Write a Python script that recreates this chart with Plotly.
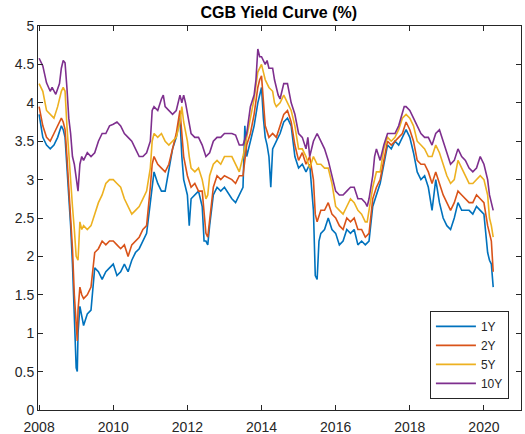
import plotly.graph_objects as go

# ---- data (decimal years, yields in %) ----
t_1y = [2008.0, 2008.1, 2008.2, 2008.3, 2008.4, 2008.5, 2008.6, 2008.65, 2008.7, 2008.75, 2008.8, 2008.85,
        2008.9, 2008.95, 2009.0, 2009.03, 2009.05, 2009.1, 2009.15, 2009.2, 2009.3, 2009.4, 2009.5, 2009.6,
        2009.7, 2009.8, 2009.9, 2010.0, 2010.1, 2010.2, 2010.3, 2010.4, 2010.5, 2010.6, 2010.7, 2010.8,
        2010.9, 2011.0, 2011.05, 2011.1, 2011.2, 2011.3, 2011.4, 2011.5, 2011.6, 2011.7, 2011.8, 2011.85,
        2011.9, 2012.0, 2012.05, 2012.1, 2012.2, 2012.3, 2012.4, 2012.45, 2012.5, 2012.55, 2012.6, 2012.7,
        2012.8, 2012.9, 2013.0, 2013.2, 2013.3, 2013.4, 2013.5, 2013.55, 2013.6, 2013.7, 2013.8, 2013.9,
        2014.0, 2014.05, 2014.1, 2014.15, 2014.2, 2014.25, 2014.3, 2014.4, 2014.5, 2014.6, 2014.7, 2014.8,
        2014.9, 2015.0, 2015.1, 2015.2, 2015.3, 2015.4, 2015.45, 2015.5, 2015.55, 2015.6, 2015.7, 2015.8,
        2015.9, 2016.0, 2016.1, 2016.2, 2016.3, 2016.4, 2016.5, 2016.6, 2016.7, 2016.8, 2016.9, 2017.0,
        2017.1, 2017.2, 2017.3, 2017.4, 2017.5, 2017.6, 2017.7, 2017.8, 2017.9, 2018.0, 2018.1, 2018.2,
        2018.3, 2018.4, 2018.5, 2018.6, 2018.65, 2018.7, 2018.8, 2018.9, 2019.0, 2019.1, 2019.2, 2019.3,
        2019.4, 2019.5, 2019.6, 2019.7, 2019.8, 2019.9, 2020.0, 2020.1, 2020.15, 2020.2, 2020.25]
y_1y = [3.85, 3.55, 3.45, 3.4, 3.45, 3.55, 3.7, 3.65, 3.55, 3.2, 2.8, 2.4,
        1.9, 1.3, 0.55, 0.5, 1.0, 1.35, 1.2, 1.1, 1.25, 1.3, 1.85, 1.8,
        1.7, 1.8, 1.85, 1.9, 1.75, 1.8, 1.9, 1.8, 1.95, 2.05, 2.1, 2.2,
        2.3, 2.7, 2.95, 3.1, 2.95, 2.85, 2.85, 3.1, 3.4, 3.55, 3.8, 3.3,
        3.0, 2.8, 2.4, 2.75, 2.8, 2.85, 2.65, 2.2, 2.2, 2.15, 2.4, 2.8,
        2.9, 2.85, 2.9, 2.75, 2.7, 2.8, 2.9, 3.7, 3.3, 3.5, 3.7, 4.0,
        4.2, 3.8, 3.55, 3.45, 3.3, 2.9, 3.4, 3.5, 3.6, 3.75, 3.8, 3.7,
        3.3, 3.15, 3.2, 3.1, 3.2, 2.6, 1.75, 1.7, 2.2, 2.3, 2.35, 2.5,
        2.35, 2.3, 2.15, 2.2, 2.35, 2.3, 2.35, 2.15, 2.2, 2.15, 2.2, 2.65,
        2.8, 2.95, 3.2, 3.45, 3.4, 3.5, 3.45, 3.55, 3.65, 3.55, 3.35, 3.1,
        3.0, 3.05, 2.9, 2.6, 2.85, 3.0, 2.7, 2.5, 2.4, 2.35, 2.5, 2.7,
        2.6, 2.6, 2.6, 2.55, 2.65, 2.6, 2.55, 2.05, 1.95, 1.9, 1.6]

t_2y = [2008.0, 2008.1, 2008.2, 2008.3, 2008.4, 2008.5, 2008.6, 2008.65, 2008.7, 2008.75, 2008.8, 2008.85,
        2008.9, 2008.95, 2009.0, 2009.03, 2009.05, 2009.1, 2009.15, 2009.2, 2009.3, 2009.4, 2009.5, 2009.6,
        2009.7, 2009.8, 2009.9, 2010.0, 2010.1, 2010.2, 2010.3, 2010.4, 2010.5, 2010.6, 2010.7, 2010.8,
        2010.9, 2011.0, 2011.05, 2011.1, 2011.2, 2011.3, 2011.4, 2011.5, 2011.6, 2011.7, 2011.75, 2011.8,
        2011.85, 2011.9, 2012.0, 2012.1, 2012.2, 2012.3, 2012.4, 2012.45, 2012.5, 2012.55, 2012.6, 2012.7,
        2012.8, 2012.9, 2013.0, 2013.2, 2013.3, 2013.4, 2013.5, 2013.6, 2013.7, 2013.8, 2013.9, 2013.95,
        2014.0, 2014.05, 2014.1, 2014.2, 2014.3, 2014.4, 2014.5, 2014.6, 2014.7, 2014.8, 2014.9, 2015.0,
        2015.1, 2015.2, 2015.3, 2015.4, 2015.45, 2015.5, 2015.6, 2015.7, 2015.8, 2015.9, 2016.0, 2016.1,
        2016.2, 2016.3, 2016.4, 2016.5, 2016.6, 2016.7, 2016.8, 2016.9, 2017.0, 2017.1, 2017.2, 2017.3,
        2017.4, 2017.5, 2017.6, 2017.7, 2017.8, 2017.9, 2018.0, 2018.1, 2018.2, 2018.3, 2018.4, 2018.5,
        2018.6, 2018.7, 2018.8, 2018.9, 2019.0, 2019.1, 2019.2, 2019.3, 2019.4, 2019.5, 2019.6, 2019.7,
        2019.8, 2019.9, 2020.0, 2020.1, 2020.15, 2020.2, 2020.25]
y_2y = [3.95, 3.7, 3.55, 3.5, 3.6, 3.7, 3.8, 3.75, 3.65, 3.3, 2.9, 2.5,
        2.1, 1.5, 1.0, 0.9, 1.3, 1.6, 1.5, 1.45, 1.5, 1.6, 2.05, 2.1,
        2.2, 2.15, 2.2, 2.2, 2.15, 2.1, 2.15, 2.0, 2.15, 2.2, 2.25, 2.35,
        2.4, 2.9, 3.2, 3.3, 3.2, 3.15, 3.1, 3.2, 3.4, 3.6, 3.75, 3.9,
        3.6, 3.3, 3.05, 2.9, 2.95, 2.85, 2.85, 2.55, 2.3, 2.25, 2.5, 2.9,
        3.05, 3.0, 3.05, 3.0, 2.95, 3.05, 3.05, 3.45, 3.6, 3.85, 4.2, 4.3,
        4.35, 4.0, 3.7, 3.55, 3.6, 3.55, 3.7, 3.85, 3.9, 3.75, 3.45, 3.25,
        3.35, 3.2, 3.3, 3.0, 2.55, 2.45, 2.6, 2.6, 2.7, 2.55, 2.5, 2.4,
        2.35, 2.5, 2.45, 2.5, 2.35, 2.35, 2.25, 2.3, 2.75, 2.9, 3.0, 3.25,
        3.5, 3.45, 3.5, 3.55, 3.6, 3.75, 3.65, 3.5, 3.25, 3.2, 3.2, 3.1,
        2.95, 3.1, 2.95, 2.8, 2.7, 2.6, 2.7, 2.85, 2.8, 2.75, 2.7, 2.7,
        2.8, 2.75, 2.7, 2.4, 2.3, 2.2, 1.8]

t_5y = [2008.0, 2008.1, 2008.2, 2008.3, 2008.4, 2008.5, 2008.6, 2008.65, 2008.7, 2008.75, 2008.8, 2008.85,
        2008.9, 2008.95, 2009.0, 2009.05, 2009.1, 2009.15, 2009.2, 2009.3, 2009.4, 2009.5, 2009.6, 2009.7,
        2009.8, 2009.9, 2010.0, 2010.1, 2010.2, 2010.3, 2010.4, 2010.5, 2010.6, 2010.7, 2010.8, 2010.9,
        2011.0, 2011.05, 2011.1, 2011.2, 2011.3, 2011.4, 2011.5, 2011.6, 2011.7, 2011.8, 2011.85, 2011.9,
        2012.0, 2012.05, 2012.1, 2012.2, 2012.3, 2012.4, 2012.5, 2012.55, 2012.6, 2012.7, 2012.8, 2012.9,
        2013.0, 2013.2, 2013.3, 2013.4, 2013.5, 2013.6, 2013.7, 2013.8, 2013.9, 2013.95, 2014.0, 2014.1,
        2014.2, 2014.3, 2014.35, 2014.4, 2014.5, 2014.6, 2014.7, 2014.8, 2014.9, 2015.0, 2015.1, 2015.2,
        2015.3, 2015.4, 2015.5, 2015.6, 2015.7, 2015.8, 2015.9, 2016.0, 2016.1, 2016.2, 2016.3, 2016.4,
        2016.5, 2016.6, 2016.7, 2016.8, 2016.85, 2016.9, 2017.0, 2017.1, 2017.2, 2017.3, 2017.4, 2017.5,
        2017.6, 2017.7, 2017.8, 2017.9, 2018.0, 2018.1, 2018.2, 2018.3, 2018.4, 2018.5, 2018.6, 2018.7,
        2018.8, 2018.9, 2019.0, 2019.1, 2019.2, 2019.3, 2019.4, 2019.5, 2019.6, 2019.7, 2019.8, 2019.9,
        2020.0, 2020.1, 2020.15, 2020.2, 2020.25]
y_5y = [4.25, 4.15, 3.9, 3.85, 3.8, 3.95, 4.15, 4.2, 4.15, 3.7, 3.3, 2.9,
        2.65, 2.35, 2.0, 1.95, 2.45, 2.35, 2.4, 2.35, 2.4, 2.55, 2.7, 2.8,
        2.95, 3.0, 3.0, 2.95, 2.9, 2.75, 2.65, 2.55, 2.6, 2.65, 2.75, 2.85,
        3.15, 3.5, 3.6, 3.55, 3.6, 3.5, 3.45, 3.5, 3.55, 3.75, 3.95, 3.75,
        3.5, 3.3, 3.15, 3.1, 3.15, 3.0, 2.75, 2.8, 3.05, 3.2, 3.25, 3.2,
        3.3, 3.3, 3.2, 3.1, 3.3, 3.55, 3.8, 4.05, 4.4, 4.45, 4.5, 4.3,
        4.2, 4.15, 4.0, 3.95, 4.0, 4.1, 4.0, 3.9, 3.7, 3.4, 3.4, 3.3,
        3.15, 3.3, 3.2, 3.2, 3.15, 3.15, 2.95, 2.65, 2.6, 2.55, 2.65, 2.75,
        2.7, 2.6, 2.55, 2.45, 2.45, 2.6, 2.9, 3.1, 3.1, 3.4, 3.55, 3.5,
        3.55, 3.65, 3.8, 3.85, 3.8, 3.7, 3.5, 3.45, 3.4, 3.3, 3.3, 3.45,
        3.35, 3.2, 3.05, 2.95, 3.0, 3.25, 3.15, 3.05, 2.95, 2.95, 3.0, 3.05,
        3.0, 2.8, 2.5, 2.4, 2.25]

t_10y = [2008.0, 2008.1, 2008.2, 2008.3, 2008.35, 2008.45, 2008.55, 2008.6, 2008.65, 2008.7, 2008.75, 2008.8,
         2008.85, 2008.9, 2008.95, 2009.0, 2009.05, 2009.1, 2009.15, 2009.2, 2009.3, 2009.4, 2009.5, 2009.6,
         2009.7, 2009.8, 2009.9, 2010.0, 2010.1, 2010.2, 2010.3, 2010.4, 2010.5, 2010.6, 2010.7, 2010.8,
         2010.9, 2011.0, 2011.05, 2011.1, 2011.2, 2011.3, 2011.35, 2011.4, 2011.5, 2011.6, 2011.7, 2011.8,
         2011.85, 2011.9, 2011.95, 2012.0, 2012.1, 2012.2, 2012.3, 2012.4, 2012.5, 2012.6, 2012.7, 2012.8,
         2012.9, 2013.0, 2013.2, 2013.3, 2013.4, 2013.5, 2013.6, 2013.7, 2013.8, 2013.85, 2013.9, 2013.95,
         2014.0, 2014.1, 2014.15, 2014.2, 2014.3, 2014.35, 2014.4, 2014.45, 2014.5, 2014.6, 2014.7, 2014.8,
         2014.9, 2015.0, 2015.1, 2015.2, 2015.25, 2015.3, 2015.4, 2015.5, 2015.6, 2015.7, 2015.8, 2015.9,
         2016.0, 2016.1, 2016.2, 2016.3, 2016.4, 2016.5, 2016.6, 2016.7, 2016.8, 2016.85, 2016.9, 2017.0,
         2017.05, 2017.1, 2017.2, 2017.3, 2017.4, 2017.5, 2017.6, 2017.7, 2017.8, 2017.85, 2017.9, 2018.0,
         2018.1, 2018.2, 2018.3, 2018.4, 2018.5, 2018.6, 2018.7, 2018.8, 2018.9, 2019.0, 2019.1, 2019.2,
         2019.3, 2019.4, 2019.5, 2019.6, 2019.7, 2019.8, 2019.9, 2020.0, 2020.1, 2020.15, 2020.2, 2020.25]
y_10y = [4.58, 4.48, 4.26, 4.15, 4.2, 4.11, 4.25, 4.45, 4.55, 4.52, 4.2, 3.8,
         3.6, 3.3, 3.2, 3.0, 2.85, 3.2, 3.3, 3.25, 3.35, 3.3, 3.35, 3.5,
         3.6, 3.6, 3.7, 3.72, 3.75, 3.7, 3.6, 3.55, 3.5, 3.4, 3.3, 3.3,
         3.35, 3.5, 3.9, 3.95, 3.9, 4.05, 4.1, 3.95, 3.9, 3.85, 3.9, 4.1,
         4.0, 4.1, 4.0, 3.85, 3.6, 3.55, 3.55, 3.45, 3.3, 3.35, 3.5, 3.55,
         3.55, 3.6, 3.6, 3.58, 3.45, 3.45, 3.6, 3.95, 4.1, 4.3, 4.7, 4.6,
         4.6, 4.5, 4.55, 4.45, 4.45, 4.3, 4.2, 4.1, 4.05, 4.25, 4.25, 4.0,
         3.85, 3.6, 3.55, 3.4, 3.55, 3.3, 3.5, 3.6, 3.5, 3.4, 3.25, 3.05,
         2.85, 2.8, 2.8, 2.85, 2.9, 2.9, 2.75, 2.75, 2.7, 2.65, 2.75, 3.05,
         3.3, 3.4, 3.25, 3.45, 3.6, 3.6, 3.6, 3.7, 3.85, 3.95, 3.95, 3.9,
         3.8, 3.7, 3.6, 3.55, 3.55, 3.45, 3.6, 3.65, 3.5, 3.35, 3.2, 3.25,
         3.4, 3.3, 3.25, 3.15, 3.1, 3.15, 3.3, 3.2, 3.0, 2.8, 2.7, 2.6]

series_names = ["1Y", "2Y", "5Y", "10Y"]
x_ticks = [2008, 2010, 2012, 2014, 2016, 2018, 2020]
y_ticks = [0, 0.5, 1, 1.5, 2, 2.5, 3, 3.5, 4, 4.5, 5]
y_tick_labels = ["0", "0.5", "1", "1.5", "2", "2.5", "3", "3.5", "4", "4.5", "5"]

colors = ["#0072BD", "#D95319", "#EDB120", "#7E2F8E"]
series = [(t_1y, y_1y), (t_2y, y_2y), (t_5y, y_5y), (t_10y, y_10y)]

fig = go.Figure()
for (t, y), name, c in zip(series, series_names, colors):
    fig.add_trace(go.Scatter(x=t, y=y, mode="lines", name=name,
                             line=dict(color=c, width=1.6)))

axis_common = dict(showgrid=False, zeroline=False, showline=True, mirror="ticks",
                   linecolor="#262626", linewidth=1, ticks="inside", ticklen=5,
                   tickcolor="#262626", automargin=False,
                   tickfont=dict(family="Liberation Sans, Arial", size=14, color="#262626"))

fig.update_layout(
    width=525, height=434,
    margin=dict(l=38, r=4, t=26, b=24),
    paper_bgcolor="white", plot_bgcolor="white",
    title=dict(text="<b>CGB Yield Curve (%)</b>", x=0.531, xanchor="center", y=0.985, yanchor="top",
               font=dict(family="Liberation Sans, Arial", size=16, color="black")),
    xaxis=dict(range=[2007.97, 2021.0], tickvals=x_ticks, ticklabelstandoff=4, **axis_common),
    yaxis=dict(range=[0, 5], tickvals=y_ticks, ticktext=y_tick_labels, **axis_common),
    legend=dict(x=0.975, y=0.029, xanchor="right", yanchor="bottom",
                bgcolor="white", bordercolor="#262626", borderwidth=1,
                font=dict(family="Liberation Sans, Arial", size=12, color="#262626"),
                tracegroupgap=0, itemwidth=40),
    showlegend=True,
)

fig.write_html("out.html", config={"displayModeBar": False},
               post_script="document.body.style.margin='0';document.body.style.padding='0';")
